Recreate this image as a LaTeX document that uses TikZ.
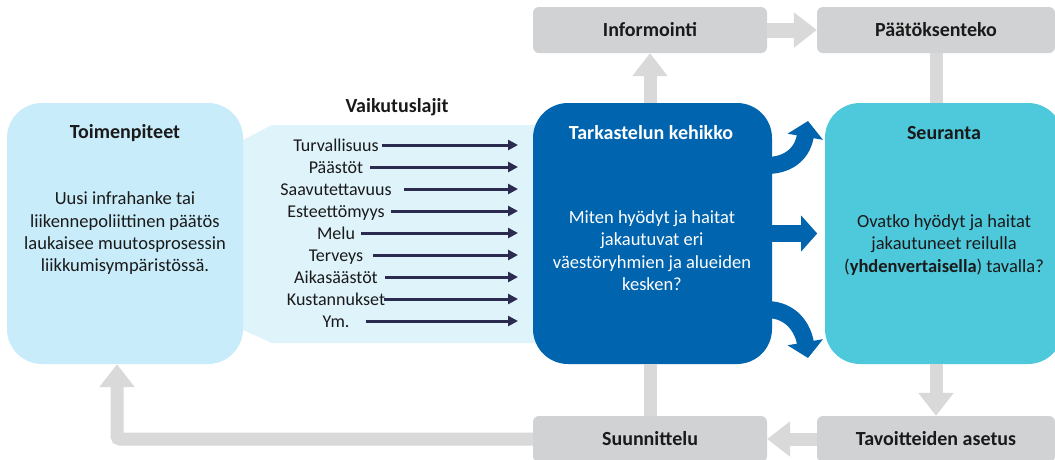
\documentclass[tikz,border=0pt]{standalone}
\usepackage{fontspec}
\setmainfont{Carlito}
\usetikzlibrary{arrows.meta}
\definecolor{toimfill}{HTML}{C9ECFA}
\definecolor{panelfill}{HTML}{DFF3FB}
\definecolor{kehblue}{HTML}{0064AF}
\definecolor{seurfill}{HTML}{4EC8DB}
\definecolor{boxgray}{HTML}{D1D2D4}
\definecolor{linegray}{HTML}{D9D9D9}
\definecolor{navy}{HTML}{2B2A4F}
\definecolor{txt}{HTML}{1A1A1A}
\begin{document}
\begin{tikzpicture}[x=1pt,y=-1pt,
  every node/.style={inner sep=0pt, text=txt},
  bigbox/.style={rectangle, rounded corners=35pt, minimum width=238pt, minimum height=261pt},
  graybox/.style={rectangle, rounded corners=6pt, fill=boxgray, minimum width=234pt, minimum height=46pt, font=\bfseries\fontsize{20}{24}\selectfont},
  titletext/.style={font=\bfseries\fontsize{20}{24}\selectfont},
  bodytext/.style={align=center, font=\fontsize{18.5}{22.3}\selectfont},
  itemtext/.style={font=\fontsize{18}{22}\selectfont, text height=12pt, text depth=0pt},
  listarrow/.style={draw=navy, line width=3pt, -{Triangle[width=10pt,length=10pt]}},
  grayarrow/.style={draw=linegray, line width=13pt, -{Triangle[width=34pt,length=23pt]}},
  grayline/.style={draw=linegray, line width=13pt},
  bluearrow/.style={draw=kehblue, line width=17pt, -{Triangle[width=35pt,length=16pt]}},
]
\clip (0,0) rectangle (1055,459);
\fill[white] (0,0) rectangle (1055,459);

% Vaikutuslajit panel
\fill[panelfill] (243,140) -- (272,125) -- (540,125) -- (540,343) -- (272,343) -- (243,330) -- cycle;

% main boxes
\node[bigbox, fill=toimfill, minimum width=236pt] (toim) at (125,233.5) {};
\node[bigbox, fill=kehblue, minimum width=239pt] (keh) at (652.5,233.5) {};
\node[bigbox, fill=seurfill] (seur) at (944,233.5) {};

% gray boxes
\node[graybox] (info) at (650,30) {Informointi};
\node[graybox, minimum width=238pt] (paat) at (936,30) {Päätöksenteko};
\node[graybox] (suun) at (650,439) {Suunnittelu};
\node[graybox, minimum width=238pt] (tavo) at (936,439) {Tavoitteiden asetus};

% gray connectors
\draw[grayarrow] (info.south |- keh.north) -- (info.south);
\draw[grayarrow, line width=15pt] (info.east) -- (paat.west);
\draw[grayline] (paat.south) -- (paat.south |- seur.north);
\draw[grayarrow] (paat.south |- seur.south) -- (tavo.north);
\draw[grayarrow] (tavo.west) -- (suun.east);
\draw[grayline] (suun.north |- keh.south) -- (suun.north);
\coordinate (bend) at (117,439);
\draw[grayarrow, rounded corners=3pt] (suun.west) -- (bend) -- (bend |- toim.south);

% blue arrows
\draw[bluearrow] ([xshift=-6pt]keh.east) -- ++(51,0);
\draw[bluearrow] ([xshift=-6pt,yshift=68pt]keh.east) .. controls +(26,0) and +(-5,29) .. (808,121);
\draw[bluearrow] ([xshift=-6pt,yshift=-76pt]keh.east) .. controls +(26,0) and +(-5,-29) .. (808,358);

% texts
\node[titletext] (toimT) at (125,133) {Toimenpiteet};
\node[bodytext] (toimB) at (125,233.5) {Uusi infrahanke tai\\liikennepoliittinen päätös\\laukaisee muutosprosessin\\liikkumisympäristössä.};
\node[titletext, text=white] (kehT) at (651,133) {Tarkastelun kehikko};
\node[bodytext, text=white] (kehB) at (652,250.5) {Miten hyödyt ja haitat\\jakautuvat eri\\väestöryhmien ja alueiden\\kesken?};
\node[titletext] (seurT) at (944,133) {Seuranta};
\node[bodytext] (seurB) at (944,245) {Ovatko hyödyt ja haitat\\jakautuneet reilulla\\(\textbf{yhdenvertaisella}) tavalla?};
\node[titletext] (vaikT) at (397,107) {Vaikutuslajit};

% list
\coordinate (lend) at (518,0);
\foreach [count=\k] \t/\s in {Turvallisuus/3, Päästöt/7, Saavutettavuus/12, Esteettömyys/6, Melu/6, Terveys/10, Aikasäästöt/7, Kustannukset/-1, Ym./16} {
  \node[itemtext] (i\k) at (336,{145+22*(\k-1)}) {\t};
  \draw[listarrow] ([xshift=\s pt]i\k.east) -- (i\k.east -| lend);
}
\end{tikzpicture}
\end{document}
